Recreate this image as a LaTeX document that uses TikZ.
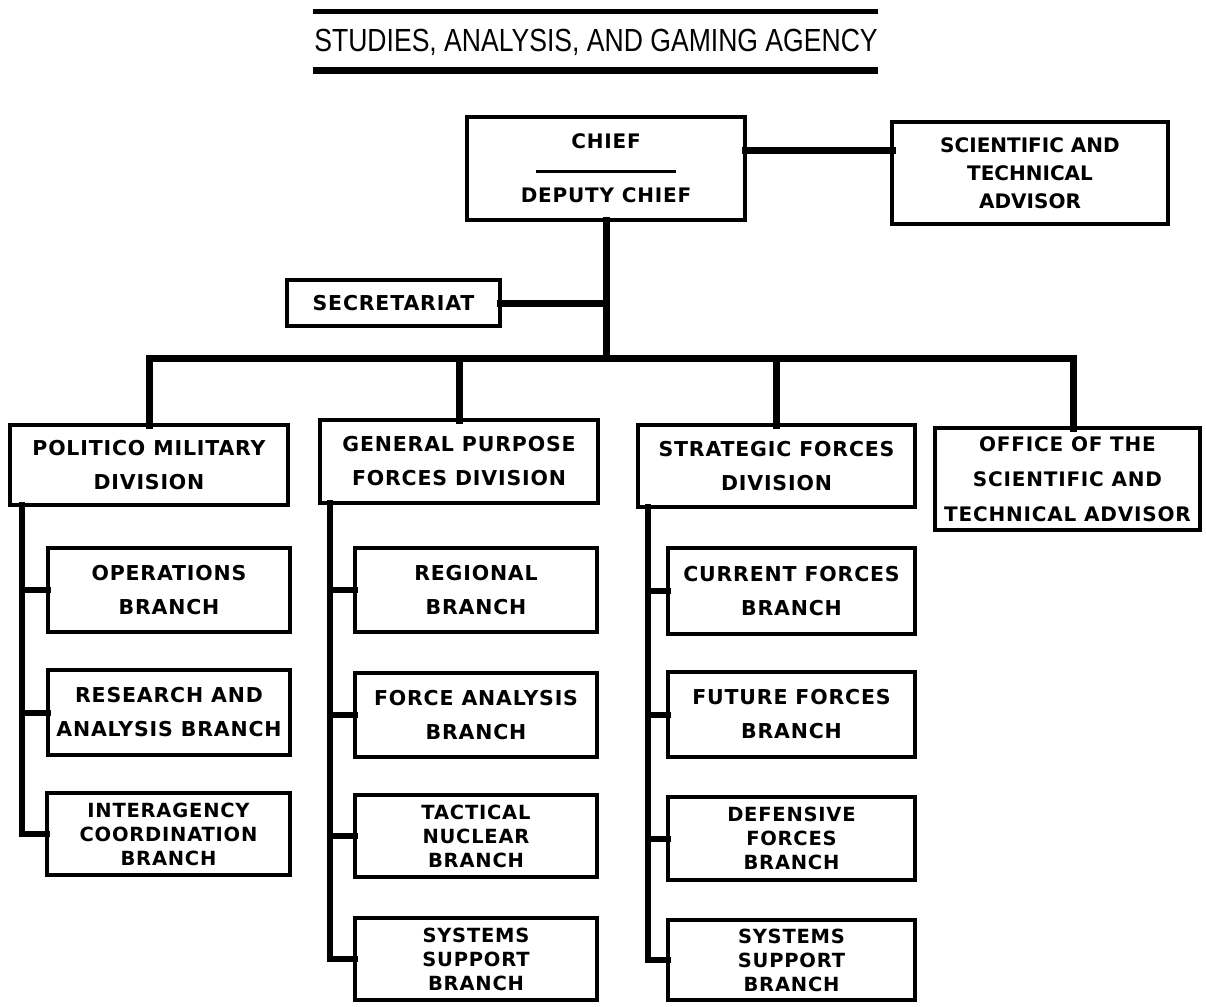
\documentclass[tikz,border=0pt]{standalone}
\usepackage{fontspec}
\setmainfont{DejaVu Sans}
\newfontfamily\bx{DejaVu Sans}[LetterSpace=4]
\newfontfamily\titlefont{Liberation Sans}[FakeStretch=0.83]
\begin{document}
\begin{tikzpicture}[x=1pt,y=-1pt,
  orgbox/.style={draw, line width=3.5pt, rectangle, inner sep=0pt, outer sep=0pt, align=center,
    font=\bx\bfseries\fontsize{20.5}{34}\selectfont},
  orgboxthree/.style={orgbox, font=\bx\bfseries\fontsize{19.5}{24}\selectfont},
  conn/.style={line width=7pt, line cap=rect},
  colline/.style={line width=6pt, line cap=rect}]
\useasboundingbox (0,0) rectangle (1206,1006);

% title
\node[font=\titlefont\fontsize{32}{32}\selectfont, inner sep=0pt] (title) at (596,42) {STUDIES, ANALYSIS, AND GAMING AGENCY};
\draw[line width=5pt] (313,12) -- (878,12);
\draw[line width=7pt] (313,71) -- (878,71);

% top level
\node[orgbox, minimum width=278pt, minimum height=103pt, font=\bx\bfseries\fontsize{20}{27}\selectfont] (chief) at (606,168.5)
  {CHIEF\\\rule[3pt]{140pt}{3pt}\\DEPUTY CHIEF};
\node[orgbox, minimum width=276pt, minimum height=102pt, font=\bfseries\fontsize{20}{28}\selectfont] (sci) at (1030,173)
  {SCIENTIFIC AND\\TECHNICAL\\ADVISOR};
\node[orgbox, minimum width=213pt, minimum height=46pt] (sec) at (393.5,303) {SECRETARIAT};

% divisions
\node[orgbox, minimum width=278pt, minimum height=80pt] (pol) at (149,465) {POLITICO MILITARY\\DIVISION};
\node[orgbox, minimum width=278pt, minimum height=83pt] (gen) at (459,461.5) {GENERAL PURPOSE\\FORCES DIVISION};
\node[orgbox, minimum width=277pt, minimum height=82pt] (str) at (776.5,466) {STRATEGIC FORCES\\DIVISION};
\node[orgbox, minimum width=265pt, minimum height=102pt, font=\bx\bfseries\fontsize{20}{35}\selectfont] (off) at (1067.5,479)
  {OFFICE OF THE\\SCIENTIFIC AND\\TECHNICAL ADVISOR};

% column 1
\node[orgbox, minimum width=242pt, minimum height=84pt] (ops) at (169,590) {OPERATIONS\\BRANCH};
\node[orgbox, minimum width=242pt, minimum height=85pt] (res) at (169,712.5) {RESEARCH AND\\ANALYSIS BRANCH};
\node[orgboxthree, minimum width=243pt, minimum height=82pt] (int) at (168.5,834) {INTERAGENCY\\COORDINATION\\BRANCH};

% column 2
\node[orgbox, minimum width=242pt, minimum height=84pt] (reg) at (476,590) {REGIONAL\\BRANCH};
\node[orgbox, minimum width=242pt, minimum height=84pt] (fa) at (476,715) {FORCE ANALYSIS\\BRANCH};
\node[orgboxthree, minimum width=242pt, minimum height=82pt] (tac) at (476,836) {TACTICAL\\NUCLEAR\\BRANCH};
\node[orgboxthree, minimum width=242pt, minimum height=82pt] (sysa) at (476,959) {SYSTEMS\\SUPPORT\\BRANCH};

% column 3
\node[orgbox, minimum width=247pt, minimum height=86pt] (cur) at (791.5,591) {CURRENT FORCES\\BRANCH};
\node[orgbox, minimum width=247pt, minimum height=85pt] (fut) at (791.5,714.5) {FUTURE FORCES\\BRANCH};
\node[orgboxthree, minimum width=247pt, minimum height=83pt] (def) at (791.5,838.5) {DEFENSIVE\\FORCES\\BRANCH};
\node[orgboxthree, minimum width=247pt, minimum height=80pt] (sysb) at (791.5,960) {SYSTEMS\\SUPPORT\\BRANCH};

% connectors top
\draw[conn] ([yshift=18pt]chief.east) -- ([yshift=18pt]chief.east -| sci.west);
\coordinate (busL) at (149,358);
\coordinate (busR) at (1073,358);
\draw[conn] (chief.south) -- (chief.south |- busL);
\draw[conn] (sec.east) -- (sec.east -| chief.south);
\draw[conn] (pol.north) |- (busR);
\draw[conn] (busR) -- (busR |- off.north);
\draw[conn] (gen.north) -- (gen.north |- busL);
\draw[conn] (str.north) -- (str.north |- busL);

% column connectors
\coordinate (c1) at (22,0);
\coordinate (c2) at (330,0);
\coordinate (c3) at (648,0);
\draw[colline] (pol.south -| c1) |- (int.west);
\draw[colline] (ops.west) -- (ops.west -| c1);
\draw[colline] (res.west) -- (res.west -| c1);

\draw[colline] (gen.south -| c2) |- (sysa.west);
\draw[colline] (reg.west) -- (reg.west -| c2);
\draw[colline] (fa.west) -- (fa.west -| c2);
\draw[colline] (tac.west) -- (tac.west -| c2);

\draw[colline] (str.south -| c3) |- (sysb.west);
\draw[colline] (cur.west) -- (cur.west -| c3);
\draw[colline] (fut.west) -- (fut.west -| c3);
\draw[colline] (def.west) -- (def.west -| c3);
\end{tikzpicture}
\end{document}
